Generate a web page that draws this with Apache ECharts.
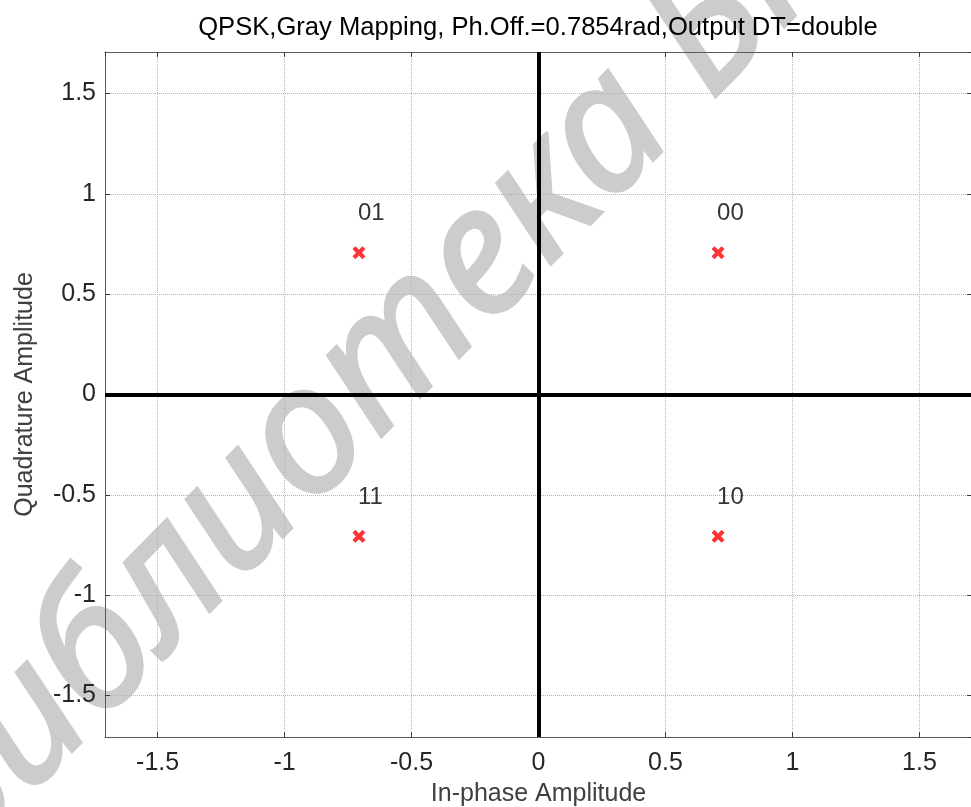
<!DOCTYPE html>
<html>
<head>
<meta charset="utf-8">
<script src="https://cdn.jsdelivr.net/npm/echarts@6/dist/echarts.min.js"></script>
<style>
html,body{margin:0;padding:0;background:#fff;}
#chart{width:971px;height:807px;}
</style>
</head>
<body>
<div id="chart"></div>
<script>
// ---- data ----
const inPhase = [0.7071, -0.7071, -0.7071, 0.7071];
const quadrature = [0.7071, 0.7071, -0.7071, -0.7071];
const symbolLabels = ['00', '01', '11', '10'];
const axisLimit = 1.7071;
const titleText = 'QPSK,Gray Mapping, Ph.Off.=0.7854rad,Output DT=double';
const xName = 'In-phase Amplitude';
const yName = 'Quadrature Amplitude';
const watermarkText = 'Библиотека БГУИР';

const FONT = '"Liberation Sans", Arial, sans-serif';
const points = inPhase.map((x, i) => ({ value: [x, quadrature[i]], name: symbolLabels[i] }));

const crossPath = 'path://M0,2.3 L2.3,0 L5,2.7 L7.7,0 L10,2.3 L7.3,5 L10,7.7 L7.7,10 L5,7.3 L2.3,10 L0,7.7 L2.7,5 Z';

function mainAxis(extra) {
  return Object.assign({
    type: 'value',
    min: -axisLimit,
    max: axisLimit,
    minInterval: 0.5,
    maxInterval: 0.5,
    axisLine: { show: true, onZero: false, lineStyle: { color: '#5a5a5a', width: 1 } },
    axisTick: { show: true, inside: true, length: 5, lineStyle: { color: '#3a3a3a', width: 1 } },
    axisLabel: { show: true, showMinLabel: false, showMaxLabel: false, color: '#262626', fontSize: 25, fontFamily: FONT },
    splitLine: { show: true, lineStyle: { color: '#b4b4b4', type: 'dotted', width: 1 } },
    nameTextStyle: { color: '#404040', fontSize: 25, fontFamily: FONT }
  }, extra);
}

const chart = echarts.init(document.getElementById('chart'), null, { renderer: 'canvas' });
chart.setOption({
  backgroundColor: '#ffffff',
  animation: false,
  title: {
    text: titleText,
    left: 533,
    textAlign: 'center',
    top: 10,
    textStyle: { color: '#000', fontSize: 25.6, fontWeight: 'normal', fontFamily: FONT }
  },
  grid: { left: 105, top: 52, width: 867, height: 685, outerBoundsMode: 'none', containLabel: false },
  xAxis: [
    mainAxis({ position: 'bottom', name: xName, nameLocation: 'middle', nameGap: 45,
      axisLabel: { show: true, showMinLabel: false, showMaxLabel: false, color: '#262626', fontSize: 25, fontFamily: FONT, margin: 14 } }),
    mainAxis({ position: 'top', axisLabel: { show: false }, splitLine: { show: false } })
  ],
  yAxis: [
    mainAxis({ position: 'left', name: yName, nameLocation: 'middle', nameGap: 67,
      axisLabel: { show: true, showMinLabel: false, showMaxLabel: false, color: '#262626', fontSize: 25, fontFamily: FONT, margin: 9 } }),
    mainAxis({ position: 'right', axisLabel: { show: false }, splitLine: { show: false } })
  ],
  graphic: [{
    type: 'text',
    z: -1,
    silent: true,
    x: -78,
    y: 832,
    rotation: 45.5 * Math.PI / 180,
    style: {
      text: watermarkText,
      fill: '#cccccc',
      stroke: '#cccccc',
      lineWidth: 3,
      fontSize: 178,
      fontStyle: 'italic',
      fontFamily: '"Noto Sans", "Open Sans", sans-serif',
      textAlign: 'left',
      textVerticalAlign: 'middle'
    }
  }],
  series: [{
    type: 'scatter',
    xAxisIndex: 0,
    yAxisIndex: 0,
    data: points,
    symbol: crossPath,
    symbolSize: 13,
    itemStyle: { color: '#ff0000' },
    label: {
      show: true,
      formatter: p => p.name,
      position: [5.5, -32.5],
      align: 'left',
      verticalAlign: 'middle',
      color: '#000',
      fontSize: 24,
      fontFamily: FONT
    },
    markLine: {
      silent: true,
      symbol: ['none', 'none'],
      label: { show: false },
      lineStyle: { color: '#000', width: 4, type: 'solid' },
      data: [{ xAxis: 0 }, { yAxis: 0 }]
    },
    z: 5
  }]
});
</script>
</body>
</html>
